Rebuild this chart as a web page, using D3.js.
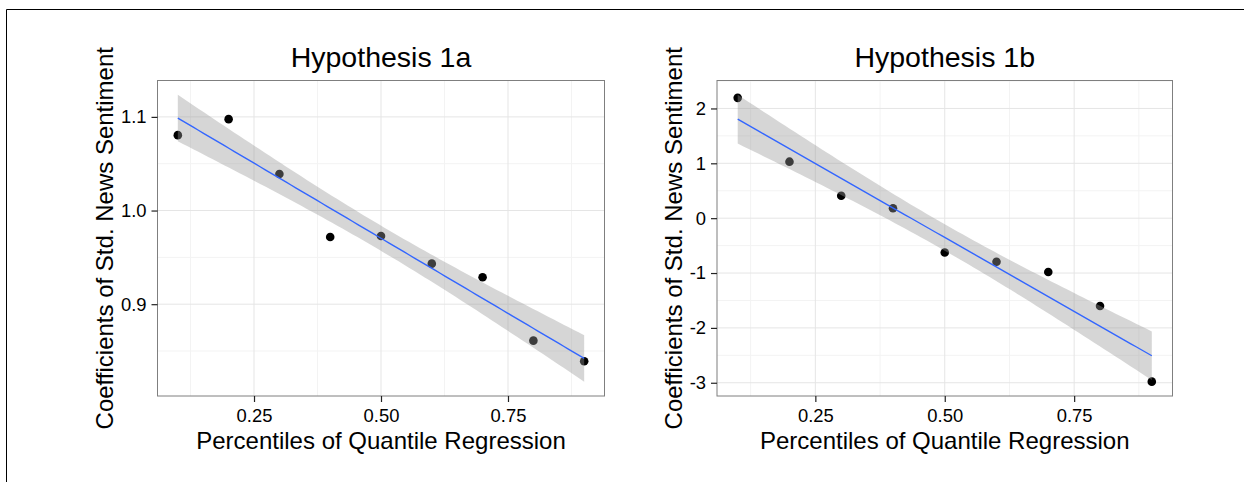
<!DOCTYPE html>
<html>
<head>
<meta charset="utf-8">
<script src="https://cdn.jsdelivr.net/npm/d3@7"></script>
<style>
  html, body { margin: 0; padding: 0; background: #fff; }
  svg { display: block; }
  text { font-family: "Liberation Sans", Arial, Helvetica, sans-serif; }
</style>
</head>
<body>
<svg id="chart" width="1244" height="482"></svg>
<script>
// ---- data ----
const percentiles = [0.1, 0.2, 0.3, 0.4, 0.5, 0.6, 0.7, 0.8, 0.9];
const coefH1a = [1.0805, 1.0976, 1.039, 0.9717, 0.9728, 0.9433, 0.9287, 0.8611, 0.8390];
const coefH1b = [2.193, 1.03, 0.41, 0.18, -0.625, -0.795, -0.98, -1.60, -2.98];
const titles = ["Hypothesis 1a", "Hypothesis 1b"];
const xTicks = [0.25, 0.50, 0.75];
const yTicksH1a = [0.9, 1.0, 1.1];
const yTicksH1b = [-3, -2, -1, 0, 1, 2];
const xLabel = "Percentiles of Quantile Regression";
const yLabel = "Coefficients of Std. News Sentiment";

// ---- layout ----
const plainLocale = d3.formatLocale({ decimal: ".", thousands: ",", grouping: [3], currency: ["", ""], minus: "-" });
const panels = [
  { title: titles[0], ys: coefH1a, yTicks: yTicksH1a, yFmt: plainLocale.format(".1f"),
    left: 157.5, right: 604.5, top: 80.5, bottom: 396, yTitleX: 113 },
  { title: titles[1], ys: coefH1b, yTicks: yTicksH1b, yFmt: plainLocale.format("d"),
    left: 717, right: 1172.5, top: 80.5, bottom: 396, yTitleX: 681.5 }
];

const svg = d3.select("#chart");

// figure frame (top and left lines)
svg.append("line").attr("x1", 6.5).attr("x2", 1244).attr("y1", 9.5).attr("y2", 9.5)
  .attr("stroke", "#000").attr("stroke-width", 1);
svg.append("line").attr("x1", 6.5).attr("x2", 6.5).attr("y1", 9.5).attr("y2", 482)
  .attr("stroke", "#000").attr("stroke-width", 1);

function linFit(xs, ys) {
  const n = xs.length;
  const mx = d3.mean(xs), my = d3.mean(ys);
  let sxx = 0, sxy = 0;
  xs.forEach((x, i) => { sxx += (x - mx) ** 2; sxy += (x - mx) * (ys[i] - my); });
  const b = sxy / sxx, a = my - b * mx;
  let sse = 0;
  xs.forEach((x, i) => { sse += (ys[i] - (a + b * x)) ** 2; });
  const s = Math.sqrt(sse / (n - 2));
  const z = 1.959964;
  const xmin = d3.min(xs), xmax = d3.max(xs);
  return d3.range(80).map(k => {
    const x = xmin + (xmax - xmin) * k / 79;
    const fit = a + b * x;
    const se = s * Math.sqrt(1 / n + (x - mx) ** 2 / sxx);
    return { x, fit, lo: fit - z * se, hi: fit + z * se };
  });
}

function minorBreaks(ticks, domain) {
  const step = ticks[1] - ticks[0];
  const out = [];
  for (let t = ticks[0] - step / 2; t <= domain[1]; t += step) {
    if (t >= domain[0] && t <= domain[1]) out.push(t);
  }
  return out;
}

panels.forEach(p => {
  const g = svg.append("g");
  const fit = linFit(percentiles, p.ys);

  const xr = d3.extent(percentiles);
  const xpad = (xr[1] - xr[0]) * 0.05;
  const x = d3.scaleLinear().domain([xr[0] - xpad, xr[1] + xpad]).range([p.left, p.right]);

  const allY = p.ys.concat(fit.map(d => d.lo), fit.map(d => d.hi));
  const yr = d3.extent(allY);
  const ypad = (yr[1] - yr[0]) * 0.05;
  const y = d3.scaleLinear().domain([yr[0] - ypad, yr[1] + ypad]).range([p.bottom, p.top]);

  g.append("rect").attr("x", p.left).attr("y", p.top)
    .attr("width", p.right - p.left).attr("height", p.bottom - p.top).attr("fill", "#fff");

  const xMinor = minorBreaks(xTicks, x.domain());
  const yMinor = minorBreaks(p.yTicks, y.domain());
  g.selectAll(".xmin").data(xMinor).enter().append("line")
    .attr("x1", d => x(d)).attr("x2", d => x(d)).attr("y1", p.top).attr("y2", p.bottom)
    .attr("stroke", "#f3f3f3").attr("stroke-width", 1);
  g.selectAll(".ymin").data(yMinor).enter().append("line")
    .attr("y1", d => y(d)).attr("y2", d => y(d)).attr("x1", p.left).attr("x2", p.right)
    .attr("stroke", "#f3f3f3").attr("stroke-width", 1);
  g.selectAll(".xmaj").data(xTicks).enter().append("line")
    .attr("x1", d => x(d)).attr("x2", d => x(d)).attr("y1", p.top).attr("y2", p.bottom)
    .attr("stroke", "#e5e5e5").attr("stroke-width", 1);
  g.selectAll(".ymaj").data(p.yTicks).enter().append("line")
    .attr("y1", d => y(d)).attr("y2", d => y(d)).attr("x1", p.left).attr("x2", p.right)
    .attr("stroke", "#e5e5e5").attr("stroke-width", 1);

  g.selectAll(".pt").data(percentiles).enter().append("circle")
    .attr("cx", d => x(d)).attr("cy", (d, i) => y(p.ys[i])).attr("r", 4.3)
    .attr("fill", "#000");

  g.append("path").datum(fit)
    .attr("d", d3.area().x(d => x(d.x)).y0(d => y(d.lo)).y1(d => y(d.hi)))
    .attr("fill", "#999999").attr("fill-opacity", 0.4);
  g.append("path").datum(fit)
    .attr("d", d3.line().x(d => x(d.x)).y(d => y(d.fit)))
    .attr("fill", "none").attr("stroke", "#3366FF").attr("stroke-width", 1.4);

  g.append("rect").attr("x", p.left).attr("y", p.top)
    .attr("width", p.right - p.left).attr("height", p.bottom - p.top)
    .attr("fill", "none").attr("stroke", "#7f7f7f").attr("stroke-width", 1);

  const xAxis = d3.axisBottom(x).tickValues(xTicks).tickFormat(d3.format(".2f"))
    .tickSize(6).tickPadding(7);
  const gx = g.append("g").attr("transform", `translate(0,${p.bottom})`).call(xAxis);
  gx.select(".domain").remove();
  gx.selectAll(".tick line").attr("stroke", "#222").attr("stroke-width", 1.2);
  gx.selectAll(".tick text").attr("font-size", 18.4).attr("fill", "#000")
    .attr("font-family", "'Liberation Sans', Arial, sans-serif").attr("dy", "0.71em");

  const yAxis = d3.axisLeft(y).tickValues(p.yTicks).tickFormat(p.yFmt)
    .tickSize(6).tickPadding(5);
  const gy = g.append("g").attr("transform", `translate(${p.left},0)`).call(yAxis);
  gy.select(".domain").remove();
  gy.selectAll(".tick line").attr("stroke", "#222").attr("stroke-width", 1.2);
  gy.selectAll(".tick text").attr("font-size", 18.4).attr("fill", "#000")
    .attr("font-family", "'Liberation Sans', Arial, sans-serif");

  g.append("text").attr("x", (p.left + p.right) / 2).attr("y", 67)
    .attr("text-anchor", "middle").attr("font-size", 28.5).attr("fill", "#000")
    .text(p.title);
  g.append("text").attr("x", (p.left + p.right) / 2).attr("y", 449)
    .attr("text-anchor", "middle").attr("font-size", 24).attr("fill", "#000")
    .text(xLabel);
  g.append("text")
    .attr("transform", `translate(${p.yTitleX},${(p.top + p.bottom) / 2}) rotate(-90)`)
    .attr("text-anchor", "middle").attr("font-size", 24).attr("fill", "#000")
    .text(yLabel);
});
</script>
</body>
</html>
